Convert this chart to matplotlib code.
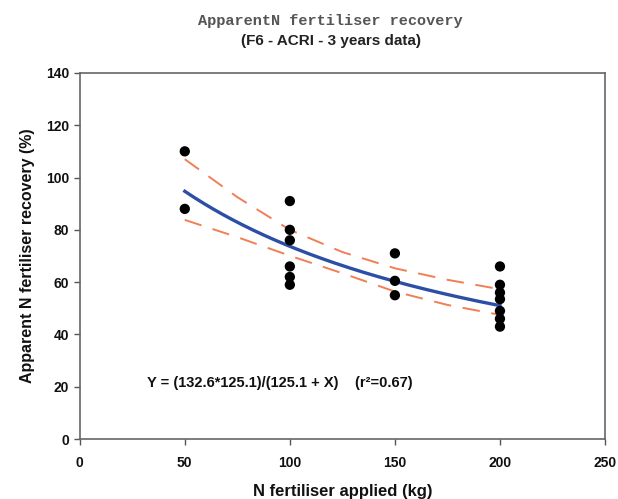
import numpy as np
import matplotlib
matplotlib.use("Agg")
import matplotlib.pyplot as plt

# observed recovery (%) by N rate (kg)
n_50 = [110, 88]
n_100 = [91, 80, 76, 66, 62, 59]
n_150 = [71, 60.5, 55]
n_200 = [66, 59, 56, 53.5, 49, 46, 43]

# fitted model printed on chart: Y = a*b/(b + X)
fit_a = 132.6
fit_b = 125.1

# confidence band
band_x = [50, 75, 100, 125, 150, 175, 200]
band_upper = [107, 92.5, 80, 71.5, 65.3, 60.9, 57.3]
band_lower = [83.8, 77.2, 70.1, 63.4, 56.4, 51.3, 47.5]

x_ticks = [0, 50, 100, 150, 200, 250]
y_ticks = [0, 20, 40, 60, 80, 100, 120, 140]

plt.rcParams["font.family"] = ["Liberation Sans", "DejaVu Sans"]

fig = plt.figure(figsize=(6.18, 4.99), dpi=100)
ax = fig.add_axes([0.129, 0.120, 0.850, 0.734])

xs = [50] * len(n_50) + [100] * len(n_100) + [150] * len(n_150) + [200] * len(n_200)
ys = n_50 + n_100 + n_150 + n_200
ax.scatter(xs, ys, s=55, color="black", zorder=3, edgecolors="none")

fx = np.linspace(50, 200, 200)
ax.plot(fx, fit_a * fit_b / (fit_b + fx), color="#2d4ea6", lw=2.4, zorder=2)

ax.plot(band_x, band_upper, color="#f07f55", lw=1.4, dashes=(9, 6), zorder=2)
ax.plot(band_x, band_lower, color="#f07f55", lw=1.4, dashes=(9, 6), zorder=2)

ax.set_xlim(0, 250)
ax.set_ylim(0, 140)
ax.set_xticks(x_ticks)
ax.set_yticks(y_ticks)
for lbl in ax.get_xticklabels() + ax.get_yticklabels():
    lbl.set_fontweight("bold")
ax.tick_params(direction="out", length=4, width=1, colors="#555555",
               labelcolor="#111111", labelsize=10)
ax.tick_params(axis="x", pad=8)
for sp in ax.spines.values():
    sp.set_color("#666666")
    sp.set_linewidth(1.2)

ax.set_xlabel("N fertiliser applied (kg)", fontsize=12, fontweight="bold",
              color="#111111", labelpad=10)
ax.set_ylabel("Apparent N fertiliser recovery (%)", fontsize=11.5,
              fontweight="bold", color="#111111", labelpad=8)

ax.text(32, 21.4, "Y = (132.6*125.1)/(125.1 + X)    (r²=0.67)", fontsize=10.5,
        fontweight="bold", color="#111111", va="center")

fig.text(0.535, 0.958, "ApparentN fertiliser recovery", ha="center", va="center",
         fontsize=11, family="Liberation Mono", fontweight="bold", color="#555555")
fig.text(0.535, 0.918, "(F6 - ACRI - 3 years data)", ha="center", va="center",
         fontsize=11, fontweight="bold", color="#222222")

fig.savefig("out.png", dpi=100)
